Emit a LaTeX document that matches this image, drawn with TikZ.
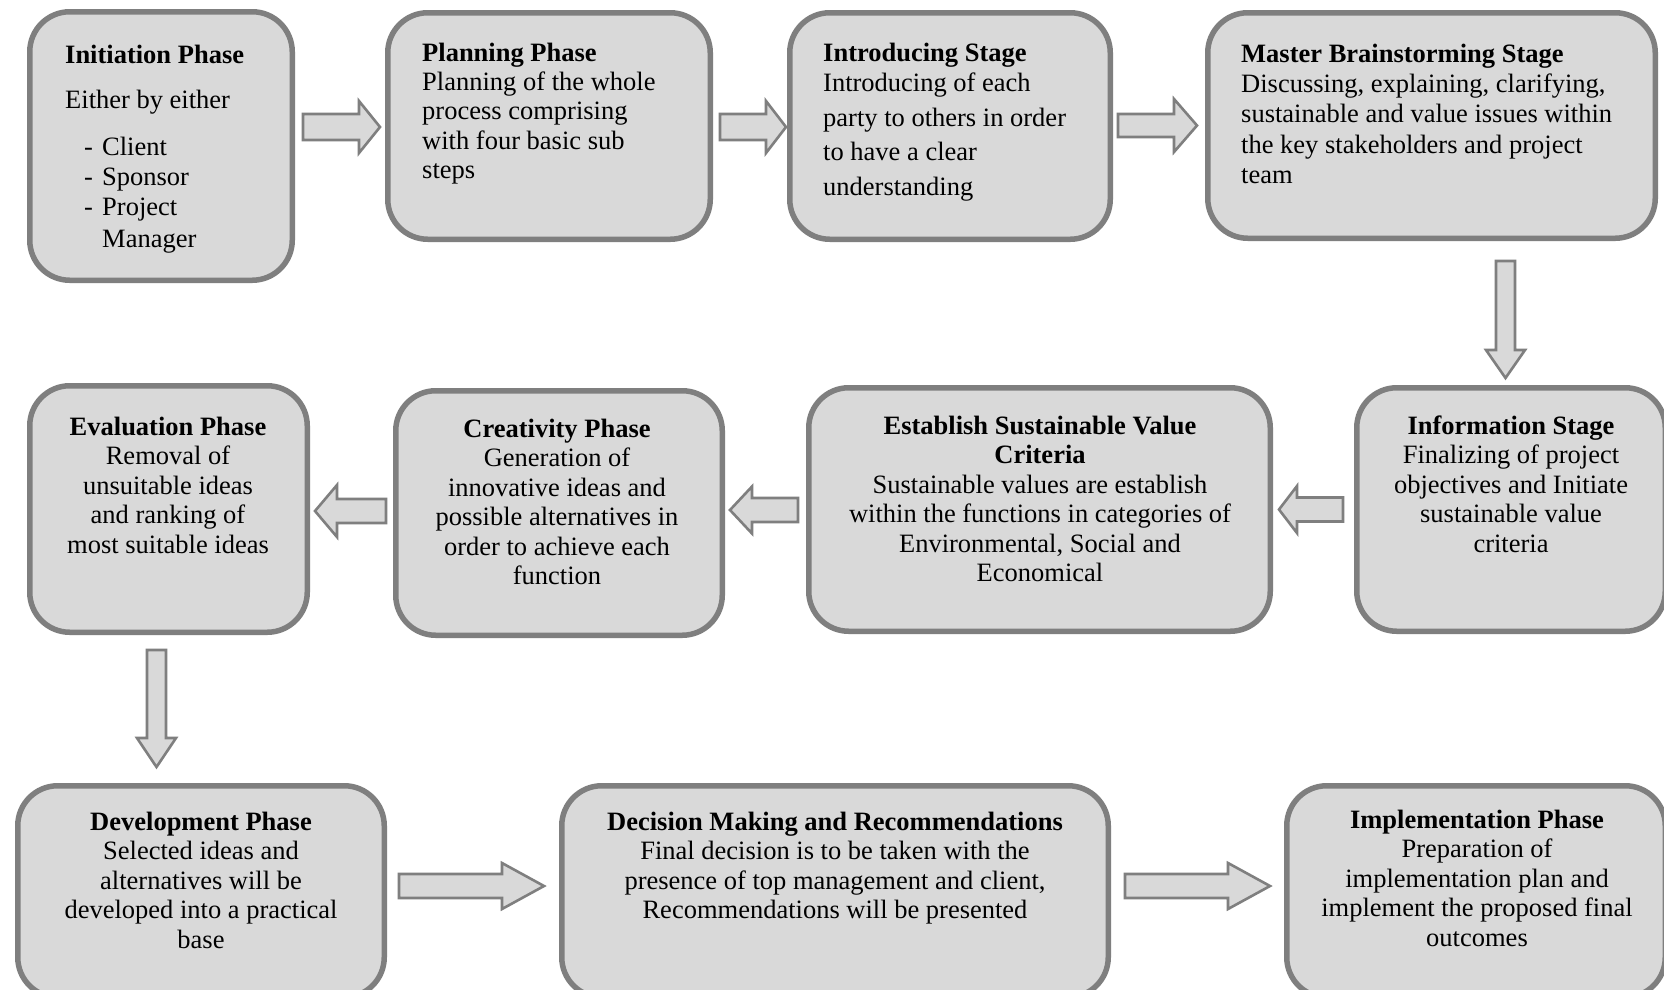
\documentclass[tikz,border=0pt]{standalone}
\usepackage{fontspec}
\setmainfont{Liberation Serif}
\usetikzlibrary{calc}
\definecolor{boxfill}{HTML}{D9D9D9}
\definecolor{boxline}{HTML}{7F7F7F}
\tikzset{
  box/.style={draw=boxline, fill=boxfill, line width=5.5pt, rounded corners=40pt, inner sep=0pt},
  blk/.style={draw=boxline, fill=boxfill, line width=2.6pt, line join=miter},
  ltxt/.style={anchor=north west, align=left, inner sep=0pt, font=\fontsize{26.5}{30}\selectfont},
  ctxt/.style={anchor=north, align=center, inner sep=0pt, font=\fontsize{26.5}{29.5}\selectfont},
}
\newcommand{\st}{\rule{0pt}{21pt}}
\newcommand{\mybox}[5]{\node[box, minimum width={#4-#2-5.5}, minimum height={#5-#3-5.5}] (#1) at ({(#2+#4)/2},{(#3+#5)/2}) {};}
% horizontal block arrow: tail, head base, tip, y centre, shaft half, head half
\newcommand{\blkH}[6]{\draw[blk] (#1,#4-#5) -- (#2,#4-#5) -- (#2,#4-#6) -- (#3,#4) -- (#2,#4+#6) -- (#2,#4+#5) -- (#1,#4+#5) -- cycle;}
% vertical block arrow: tail, head base, tip, x centre, shaft half, head half
\newcommand{\blkV}[6]{\draw[blk] (#4-#5,#1) -- (#4-#5,#2) -- (#4-#6,#2) -- (#4,#3) -- (#4+#6,#2) -- (#4+#5,#2) -- (#4+#5,#1) -- cycle;}
\begin{document}
\begin{tikzpicture}[x=1pt,y=-1pt]
\useasboundingbox (0,0) rectangle (1664,989);
\fill[white] (0,0) rectangle (1664,989);

% boxes
\mybox{init}{27}{9}{295}{283}
\mybox{plan}{385}{10}{713}{242}
\mybox{intro}{787}{10}{1113}{242}
\mybox{master}{1205}{10}{1658}{241}
\mybox{eval}{27}{383}{310}{635}
\mybox{creat}{393}{388}{725}{638}
\mybox{estab}{806}{385}{1273}{634}
\mybox{info}{1354}{385}{1668}{634}
\mybox{dev}{15}{783}{387}{1000}
\mybox{dec}{559}{783}{1111}{1000}
\mybox{impl}{1284}{783}{1668}{1000}

% texts
\node[ltxt] (initT) at (65,42) {\st\textbf{Initiation Phase}\\[15pt]
  Either by either\\[17pt]
  \hspace*{19pt}\makebox[18pt][l]{-}Client\\
  \hspace*{19pt}\makebox[18pt][l]{-}Sponsor\\
  \hspace*{19pt}\makebox[18pt][l]{-}Project\\[2pt]
  \hspace*{37pt}Manager};
\node[ltxt, font=\fontsize{26.5}{29.3}\selectfont] (planT) at (422,40) {\st\textbf{Planning Phase}\\
  Planning of the whole\\ process comprising\\ with four basic sub\\ steps};
\node[ltxt] (introT) at (823,40) {\st\textbf{Introducing Stage}\\[0.5pt]
  Introducing of each\\[4.5pt] party to others in order\\[4.5pt] to have a clear\\[4.5pt] understanding};
\node[ltxt, font=\fontsize{26.5}{30.3}\selectfont] (masterT) at (1241,41) {\st\textbf{Master Brainstorming Stage}\\
  Discussing, explaining, clarifying,\\ sustainable and value issues within\\ the key stakeholders and project\\ team};

\node[ctxt] (evalT) at (168,414) {\st\textbf{Evaluation Phase}\\ Removal of\\ unsuitable ideas\\ and ranking of\\ most suitable ideas};
\node[ctxt] (creatT) at (557,416) {\st\textbf{Creativity Phase}\\ Generation of\\ innovative ideas and\\ possible alternatives in\\ order to achieve each\\ function};
\node[ctxt] (estabT) at (1040,413) {\st\textbf{Establish Sustainable Value}\\ \textbf{Criteria}\\ Sustainable values are establish\\ within the functions in categories of\\ Environmental, Social and\\ Economical};
\node[ctxt] (infoT) at (1511,413) {\st\textbf{Information Stage}\\ Finalizing of project\\ objectives and Initiate\\ sustainable value\\ criteria};
\node[ctxt] (devT) at (201,809) {\st\textbf{Development Phase}\\ Selected ideas and\\ alternatives will be\\ developed into a practical\\ base};
\node[ctxt] (decT) at (835,809) {\st\textbf{Decision Making and Recommendations}\\ Final decision is to be taken with the\\ presence of top management and client,\\ Recommendations will be presented};
\node[ctxt] (implT) at (1477,807) {\st\textbf{Implementation Phase}\\ Preparation of\\ implementation plan and\\ implement the proposed final\\ outcomes};

% block arrows
\blkH{303}{359}{380}{127}{13}{26}
\blkH{720}{766}{786}{127}{13}{26}
\blkH{1118}{1174}{1197}{125.5}{11.5}{26.5}
\blkV{261}{350}{378}{1505.5}{9.5}{19.5}
\blkH{1343}{1297}{1279}{509.5}{12}{23.5}
\blkH{798}{752}{730}{510}{12}{23.5}
\blkH{386}{337}{315}{511}{12}{26}
\blkV{650}{738}{767}{156.5}{9.5}{19.5}
\blkH{399}{502}{544}{886}{12}{23}
\blkH{1125}{1228}{1270}{886}{12}{23}
\end{tikzpicture}
\end{document}
